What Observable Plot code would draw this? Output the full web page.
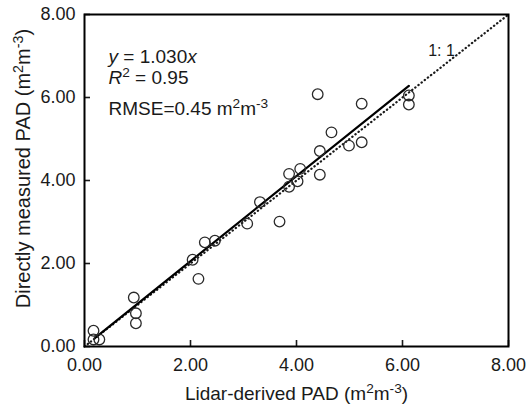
<!DOCTYPE html>
<html>
<head>
<meta charset="utf-8">
<script src="https://cdn.jsdelivr.net/npm/d3@7"></script>
<script src="https://cdn.jsdelivr.net/npm/@observablehq/plot@0.6"></script>
<style>
  html, body { margin: 0; padding: 0; background: #fff; }
</style>
</head>
<body>
<div id="chart"></div>
<script>
// ---- data ----
const lidarPAD    = [0.17, 0.17, 0.28, 0.93, 0.97, 0.97, 2.04, 2.15, 2.27, 2.46, 3.07, 3.31, 3.68, 3.86, 3.86, 4.02, 4.07, 4.40, 4.44, 4.44, 4.66, 4.99, 5.23, 5.23, 6.12, 6.12];
const measuredPAD = [0.38, 0.17, 0.17, 1.18, 0.80, 0.56, 2.09, 1.63, 2.51, 2.55, 2.96, 3.48, 3.01, 3.85, 4.16, 3.98, 4.28, 6.08, 4.71, 4.14, 5.16, 4.84, 5.85, 4.92, 6.05, 5.83];
const fitLineX = [0.2, 6.12];      // regression y = 1.030x, drawn end points
const fitLineY = [0.21, 6.28];
const oneToOneX = [0, 8];
const oneToOneY = [0, 8];
const xTicks = [0, 2, 4, 6, 8];
const yTicks = [0, 2, 4, 6, 8];
const xLabel = "Lidar-derived PAD (m^{2}m^{-3})";
const yLabel = "Directly measured PAD (m^{2}m^{-3})";
const eqLabel = "*y* = 1.030*x*";
const r2Label = "*R*^{2} = 0.95";
const rmseLabel = "RMSE=0.45 m^{2}m^{-3}";
const oneToOneLabel = "1: 1";

const points = lidarPAD.map((x, i) => ({x, y: measuredPAD[i]}));
const fitLine = fitLineX.map((x, i) => ({x, y: fitLineY[i]}));
const oneLine = oneToOneX.map((x, i) => ({x, y: oneToOneY[i]}));

const ink = "#1a1a1a";
const fmt = d => d.toFixed(2);

const chart = Plot.plot({
  width: 526,
  height: 405,
  marginLeft: 84,
  marginRight: 18,
  marginTop: 14,
  marginBottom: 59,
  style: {fontFamily: "'Liberation Sans', Arial, Helvetica, sans-serif", fontSize: "18px", color: ink, background: "#fff"},
  x: {domain: [0, 8]},
  y: {domain: [0, 8]},
  marks: [
    Plot.axisX(xTicks, {tickSize: -6, tickPadding: 18, tickFormat: fmt, label: null, fontSize: 18, stroke: ink, strokeWidth: 1.6}),
    Plot.axisY(yTicks, {tickSize: -6, tickPadding: 15, tickFormat: fmt, label: null, fontSize: 18, stroke: ink, strokeWidth: 1.6}),
    Plot.line(oneLine, {x: "x", y: "y", stroke: ink, strokeWidth: 2.2, strokeDasharray: "0.4,3.6", strokeLinecap: "round"}),
    Plot.line(fitLine, {x: "x", y: "y", stroke: "#000", strokeWidth: 2.2}),
    Plot.dot(points, {x: "x", y: "y", r: 5.3, stroke: "#2a2a2a", strokeWidth: 1.3, fill: "none"}),
    Plot.frame({stroke: "#000", strokeWidth: 2}),
    Plot.text([eqLabel], {text: d => d, frameAnchor: "top-left", dx: 24, dy: 42, textAnchor: "start", lineAnchor: "middle", fontSize: 19, fill: ink}),
    Plot.text([r2Label], {text: d => d, frameAnchor: "top-left", dx: 24, dy: 63, textAnchor: "start", lineAnchor: "middle", fontSize: 19, fill: ink}),
    Plot.text([rmseLabel], {text: d => d, frameAnchor: "top-left", dx: 24, dy: 94, textAnchor: "start", lineAnchor: "middle", fontSize: 19, fill: ink}),
    Plot.text([oneToOneLabel], {text: d => d, frameAnchor: "top-left", dx: 357, dy: 36, textAnchor: "middle", lineAnchor: "middle", fontSize: 16, fill: ink}),
    Plot.text([xLabel], {text: d => d, frameAnchor: "bottom", dy: 47, textAnchor: "middle", lineAnchor: "middle", fontSize: 19, fill: ink}),
    Plot.text([yLabel], {text: d => d, frameAnchor: "left", dx: -61, dy: -12, rotate: -90, textAnchor: "middle", lineAnchor: "middle", fontSize: 20, fill: ink})
  ]
});

document.getElementById("chart").appendChild(chart);

// rich text: ^{...} superscript, *...* italic
function richify(svg) {
  d3.select(svg).selectAll("text").each(function () {
    const s = this.textContent;
    if (!/[\^*]/.test(s)) return;
    const fs = parseFloat(getComputedStyle(this).fontSize) || 18;
    const el = d3.select(this);
    el.text(null);
    const parts = s.split(/(\^\{[^}]*\}|\*[^*]+\*)/).filter(p => p);
    let raised = false;
    for (const p of parts) {
      const t = el.append("tspan");
      if (p.startsWith("^{")) {
        t.text(p.slice(2, -1)).attr("font-size", fs * 0.72);
        if (!raised) t.attr("dy", -fs * 0.34);
        raised = true;
      } else {
        if (raised) t.attr("dy", fs * 0.34);
        raised = false;
        if (p.startsWith("*")) t.attr("font-style", "italic").text(p.slice(1, -1));
        else t.text(p);
      }
    }
  });
}
richify(chart);
</script>
</body>
</html>
